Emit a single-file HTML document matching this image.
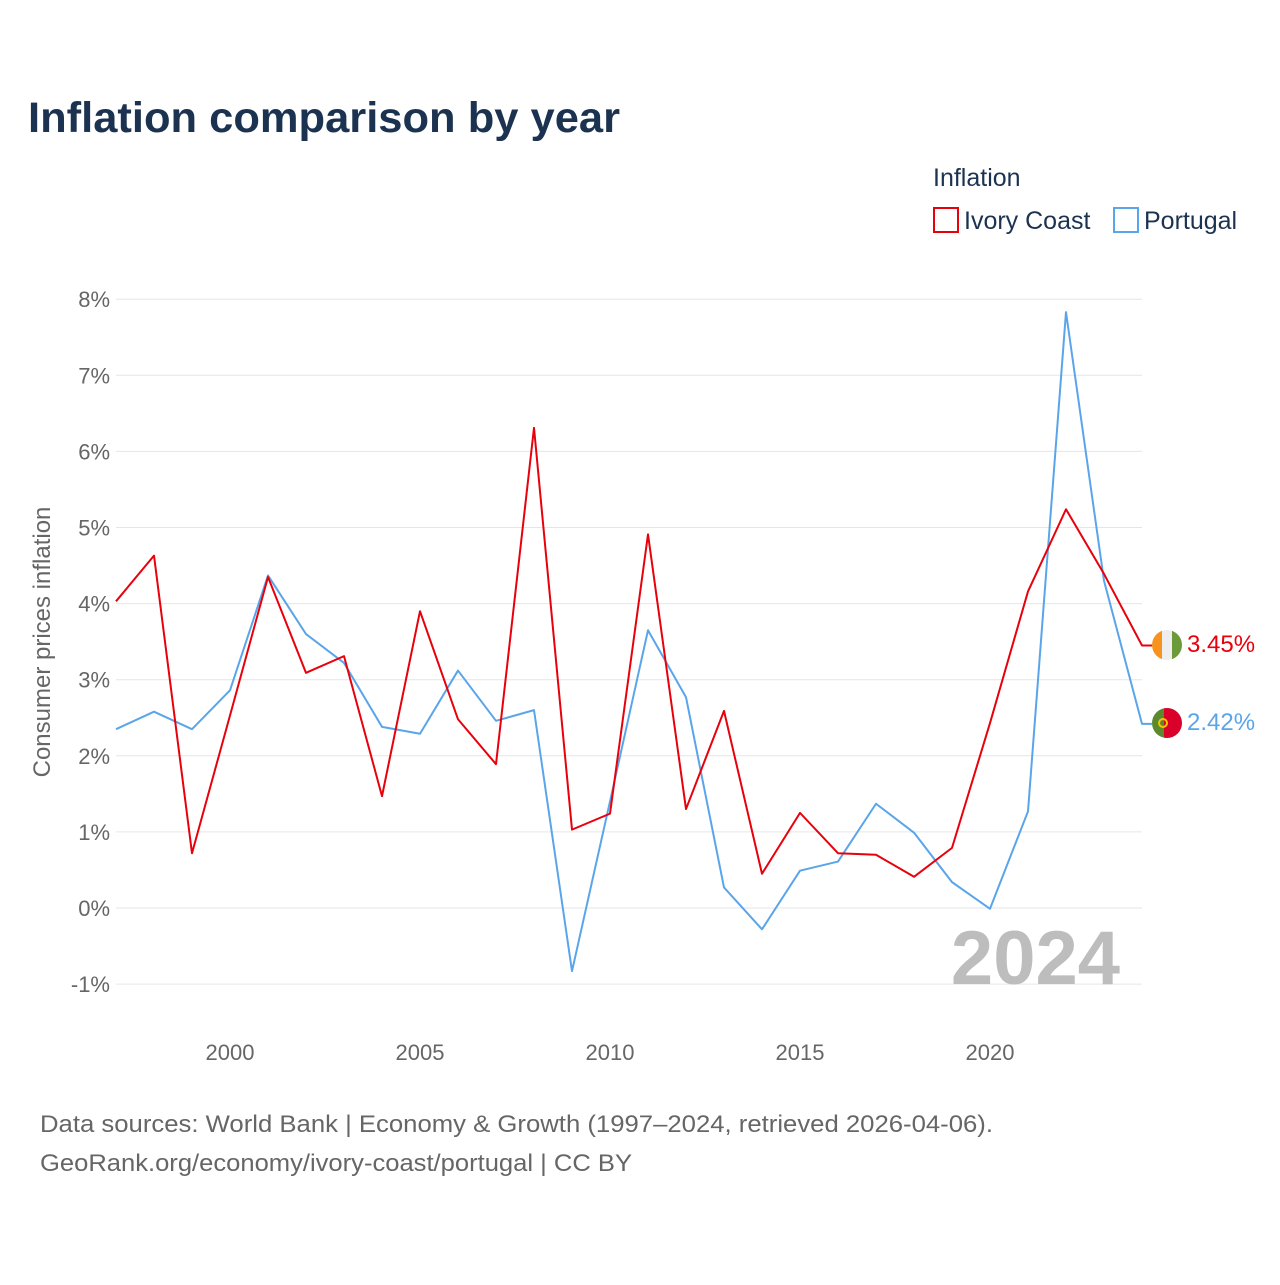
<!DOCTYPE html>
<html><head><meta charset="utf-8"><style>
body{margin:0;background:#fff;font-family:"Liberation Sans",sans-serif;}
</style></head><body>
<svg width="1280" height="1280" xmlns="http://www.w3.org/2000/svg" font-family="Liberation Sans, sans-serif">
<defs>
<clipPath id="c1"><circle cx="1167" cy="645" r="15"/></clipPath>
<clipPath id="c2"><circle cx="1167" cy="723" r="15"/></clipPath>
</defs>
<text x="28" y="132" font-size="43" font-weight="bold" fill="#1b3350" textLength="592" lengthAdjust="spacingAndGlyphs">Inflation comparison by year</text>
<text x="933" y="186" font-size="25" fill="#1b3350">Inflation</text>
<g><rect x="934" y="208" width="24" height="24" fill="none" stroke="#e8000b" stroke-width="2"/><text x="964" y="229" font-size="25" fill="#1b3350">Ivory Coast</text></g>
<g><rect x="1114" y="208" width="24" height="24" fill="none" stroke="#5aa5ea" stroke-width="2"/><text x="1144" y="229" font-size="25" fill="#1b3350">Portugal</text></g>
<g id="grid"></g>
<g id="yt"></g>
<g id="xt"></g>
<text transform="translate(50,642) rotate(-90)" text-anchor="middle" font-size="24" fill="#666">Consumer prices inflation</text>
<text x="1120" y="984" text-anchor="end" font-size="76" font-weight="bold" fill="#bdbdbd">2024</text>
<g id="lines"></g>
<g clip-path="url(#c1)"><rect x="1152" y="630" width="10" height="30" fill="#f7931e"/><rect x="1162" y="630" width="10" height="30" fill="#eee"/><rect x="1172" y="630" width="10" height="30" fill="#6a9a3a"/></g>
<g clip-path="url(#c2)"><rect x="1152" y="708" width="12" height="30" fill="#5b8a2e"/><rect x="1164" y="708" width="18" height="30" fill="#d9002a"/><circle cx="1163" cy="723" r="4" fill="none" stroke="#f5c400" stroke-width="2"/></g>
<text id="l1" x="1187" y="652" font-size="24" fill="#e8000b"></text>
<text id="l2" x="1187" y="730" font-size="24" fill="#5aa5ea"></text>
<text x="40" y="1132" font-size="24" fill="#666" textLength="953" lengthAdjust="spacingAndGlyphs">Data sources: World Bank | Economy &amp; Growth (1997–2024, retrieved 2026-04-06).</text>
<text x="40" y="1171" font-size="24" fill="#666" textLength="592" lengthAdjust="spacingAndGlyphs">GeoRank.org/economy/ivory-coast/portugal | CC BY</text>
</svg>
<script>
const years=[1997,1998,1999,2000,2001,2002,2003,2004,2005,2006,2007,2008,2009,2010,2011,2012,2013,2014,2015,2016,2017,2018,2019,2020,2021,2022,2023,2024];
const ivoryCoast=[4.03,4.63,0.72,2.53,4.35,3.09,3.31,1.47,3.90,2.48,1.89,6.31,1.03,1.24,4.91,1.30,2.59,0.45,1.25,0.72,0.70,0.41,0.79,2.43,4.16,5.24,4.39,3.45];
const portugal=[2.35,2.58,2.35,2.86,4.37,3.60,3.22,2.38,2.29,3.12,2.46,2.60,-0.83,1.40,3.65,2.77,0.27,-0.28,0.49,0.61,1.37,0.99,0.34,-0.01,1.27,7.83,4.30,2.42];
const yTicks=[-1,0,1,2,3,4,5,6,7,8];
const xTicks=[2000,2005,2010,2015,2020];
const NS="http://www.w3.org/2000/svg";
const x=y=>116+(y-1997)*38;
const yv=v=>908-v*76.1;
function mk(t,a,p){const e=document.createElementNS(NS,t);for(const k in a)e.setAttribute(k,a[k]);p.appendChild(e);return e;}
const grid=document.getElementById('grid'),yt=document.getElementById('yt'),xt=document.getElementById('xt'),lines=document.getElementById('lines');
yTicks.forEach(t=>{
 const l=mk('line',{x1:116,x2:1142,y1:yv(t),y2:yv(t),stroke:'#e6e6e6','stroke-width':1},grid);
 
 
 const tx=mk('text',{x:110,y:yv(t)+8,'text-anchor':'end','font-size':22,fill:'#666'},yt);
 tx.textContent=t+'%';
 
 
});
xTicks.forEach(t=>{
 const tx=mk('text',{x:x(t),y:1060,'text-anchor':'middle','font-size':22,fill:'#666'},xt);
 tx.textContent=t;
 
 
});
function series(vals,color,name){
 let d=vals.map((v,i)=>(i?'L':'M')+x(years[i])+','+yv(v)).join(' ');
 d+=' L'+(x(years[years.length-1])+10)+','+yv(vals[vals.length-1]);
 const p=mk('path',{d:d,fill:'none',stroke:color,'stroke-width':2,'stroke-linejoin':'round'},lines);
 
 
}
series(portugal,'#5aa5ea','line-portugal');
series(ivoryCoast,'#e8000b','line-ivory-coast');
document.getElementById('l1').textContent=ivoryCoast[ivoryCoast.length-1].toFixed(2)+'%';
document.getElementById('l2').textContent=portugal[portugal.length-1].toFixed(2)+'%';
</script>
</body></html>
